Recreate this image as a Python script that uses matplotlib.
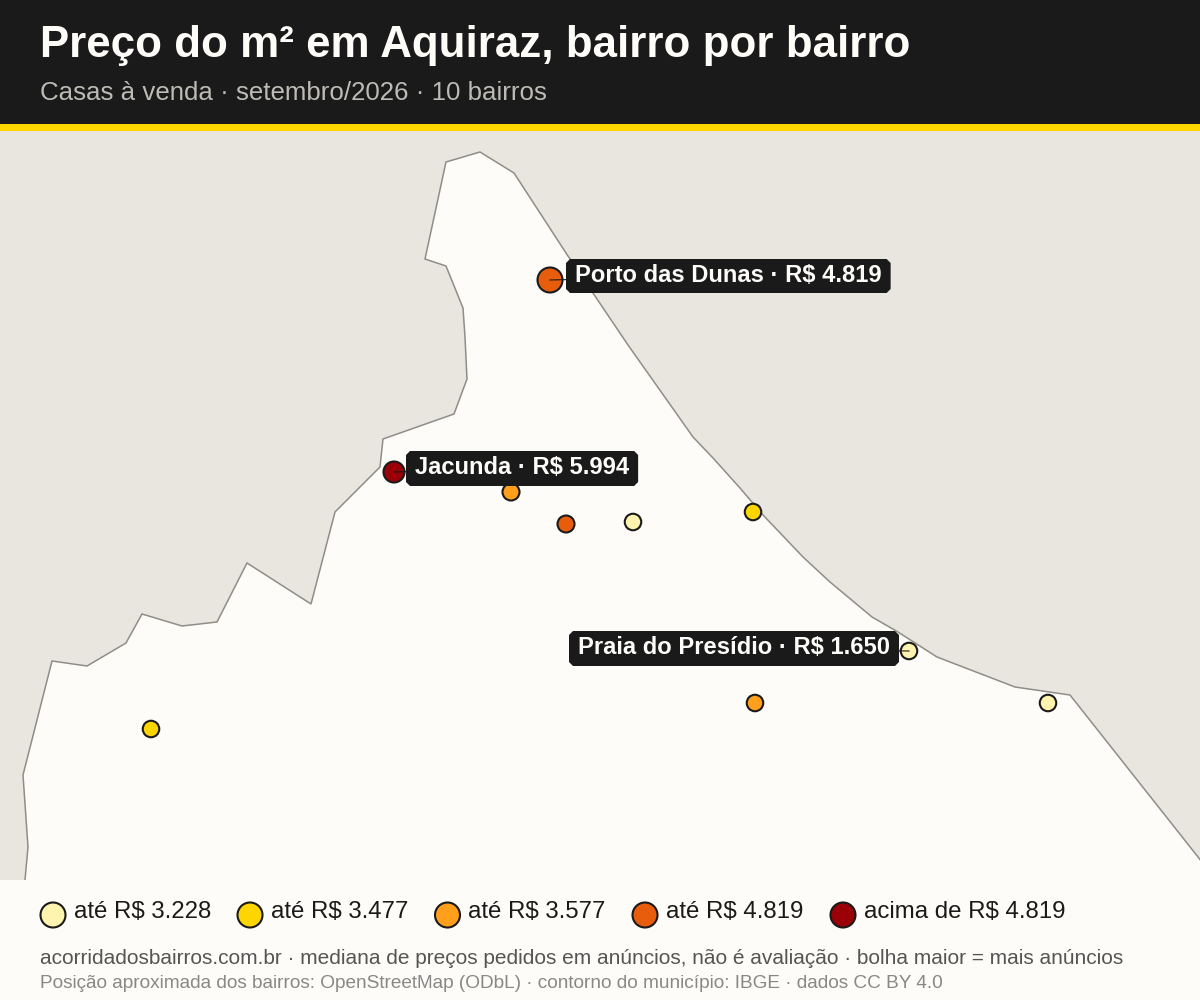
#!/usr/bin/env python3
"""
Mapa de preco do m2 em Aquiraz, bairro por bairro.
"""

import matplotlib
matplotlib.use("Agg")
import matplotlib.pyplot as plt
from matplotlib.patches import Polygon, Rectangle

plt.rcParams['font.family'] = ['Liberation Sans', 'DejaVu Sans']

# contour of the municipality, in picture pixels
contorno_x = [446, 480, 514, 566, 628, 693, 713, 740, 763, 803, 830, 872, 898, 937, 1015, 1070, 1232,
              25, 25, 28, 23, 52, 87, 126, 142, 182, 217, 247, 311, 335, 380, 383, 454, 467,
              465, 463, 446, 425]
contorno_y = [162, 152, 173, 253, 345, 437, 458, 488, 515, 557, 582, 617, 632, 657, 687, 695, 900,
              900, 880, 847, 775, 661, 666, 643, 614, 626, 622, 563, 604, 512, 467, 439, 414, 379,
              337, 308, 266, 259]

# neighbourhoods
bairro_x = [550, 394, 511, 566, 633, 753, 909, 755, 1048, 151]
bairro_y = [280, 472, 492, 524, 522, 512, 651, 703, 703, 729]
bairro_diam = [25, 21, 17, 17, 16.5, 16.5, 16.5, 16.5, 16.5, 16.5]
bairro_faixa = [3, 4, 2, 3, 0, 1, 0, 2, 0, 1]

faixa_cores = ['#FFF3B0', '#FFD500', '#FF9F1C', '#E85D0C', '#9B0008']
faixa_textos = ['até R$ 3.228', 'até R$ 3.477', 'até R$ 3.577', 'até R$ 4.819', 'acima de R$ 4.819']
legenda_x = [53, 250, 447.5, 645, 843]

# labelled neighbourhoods: index, text, text anchor, box top and bottom
rotulos = [
    (0, 'Porto das Dunas · R$ 4.819', 575, 273, 'left', 259, 293),
    (1, 'Jacunda · R$ 5.994', 415, 465, 'left', 451, 486),
    (6, 'Praia do Presídio · R$ 1.650', 890, 645, 'right', 631, 666),
]


def px(d):
    # diameter in pixels to scatter size in points^2
    return (d * 0.72) ** 2


def caixa(x0, x1, y0, y1, c=4):
    # label box with clipped corners
    return [(x0 + c, y0), (x1 - c, y0), (x1, y0 + c), (x1, y1 - c),
            (x1 - c, y1), (x0 + c, y1), (x0, y1 - c), (x0, y0 + c)]


fig = plt.figure(figsize=(12, 10), dpi=100, facecolor='#E9E6E0')
ax = fig.add_axes([0, 0, 1, 1])
ax.set_xlim(0, 1200)
ax.set_ylim(1000, 0)
ax.axis('off')

# map
ax.add_patch(Polygon(list(zip(contorno_x, contorno_y)), closed=True, clip_on=True,
                     facecolor='#FDFCF8', edgecolor='#8F8D87', linewidth=1.1, zorder=1))

# header and footer
ax.add_patch(Rectangle((0, 0), 1200, 124, facecolor='#1A1A1A', edgecolor='none', zorder=2))
ax.add_patch(Rectangle((0, 124), 1200, 7, facecolor='#FFD500', edgecolor='none', zorder=2))
ax.add_patch(Rectangle((0, 880), 1200, 120, facecolor='#FDFCF8', edgecolor='none', zorder=2))

ax.text(40, 41, 'Preço do m² em Aquiraz, bairro por bairro', color='#FDFCF8', fontsize=31.6,
        fontweight='bold', va='center_baseline', ha='left', zorder=3)
ax.text(40, 91, 'Casas à venda · setembro/2026 · 10 bairros', color='#BDBBB5', fontsize=18.6,
        va='center_baseline', ha='left', zorder=3)

# bubbles
cores = [faixa_cores[f] for f in bairro_faixa]
ax.scatter(bairro_x, bairro_y, s=[px(d) for d in bairro_diam], c=cores,
           edgecolors='#1A1A1A', linewidths=1.5, zorder=4)

# labels with leader lines to the box centre
renderer = fig.canvas.get_renderer()
for idx, texto, tx, ty, ha, topo, base in rotulos:
    t = ax.text(tx, ty, texto, color='#FDFCF8', fontsize=17.1, fontweight='bold', ha=ha,
                va='center_baseline', zorder=7)
    ext = t.get_window_extent(renderer)
    x0, x1 = ext.x0 - 9, ext.x1 + 9
    ax.add_patch(Polygon(caixa(x0, x1, topo, base), closed=True, facecolor='#1A1A1A',
                         edgecolor='none', zorder=6))
    ax.plot([bairro_x[idx], (x0 + x1) / 2], [bairro_y[idx], (topo + base) / 2],
            color='#1A1A1A', linewidth=0.8, zorder=5)

# legend
ax.scatter(legenda_x, [915] * 5, s=px(25), c=faixa_cores, edgecolors='#1A1A1A',
           linewidths=1.5, zorder=4)
for lx, texto in zip(legenda_x, faixa_textos):
    ax.text(lx + 21, 910, texto, color='#1A1A1A', fontsize=17.3, ha='left',
            va='center_baseline', zorder=4)

# notes
ax.text(40, 957, 'acorridadosbairros.com.br · mediana de preços pedidos em anúncios, '
        'não é avaliação · bolha maior = mais anúncios', color='#555555', fontsize=15.07,
        ha='left', va='center_baseline', zorder=4)
ax.text(40, 982, 'Posição aproximada dos bairros: OpenStreetMap (ODbL) · contorno do município: '
        'IBGE · dados CC BY 4.0', color='#888888', fontsize=13.7, ha='left',
        va='center_baseline', zorder=4)

fig.savefig('out.png', dpi=100)
